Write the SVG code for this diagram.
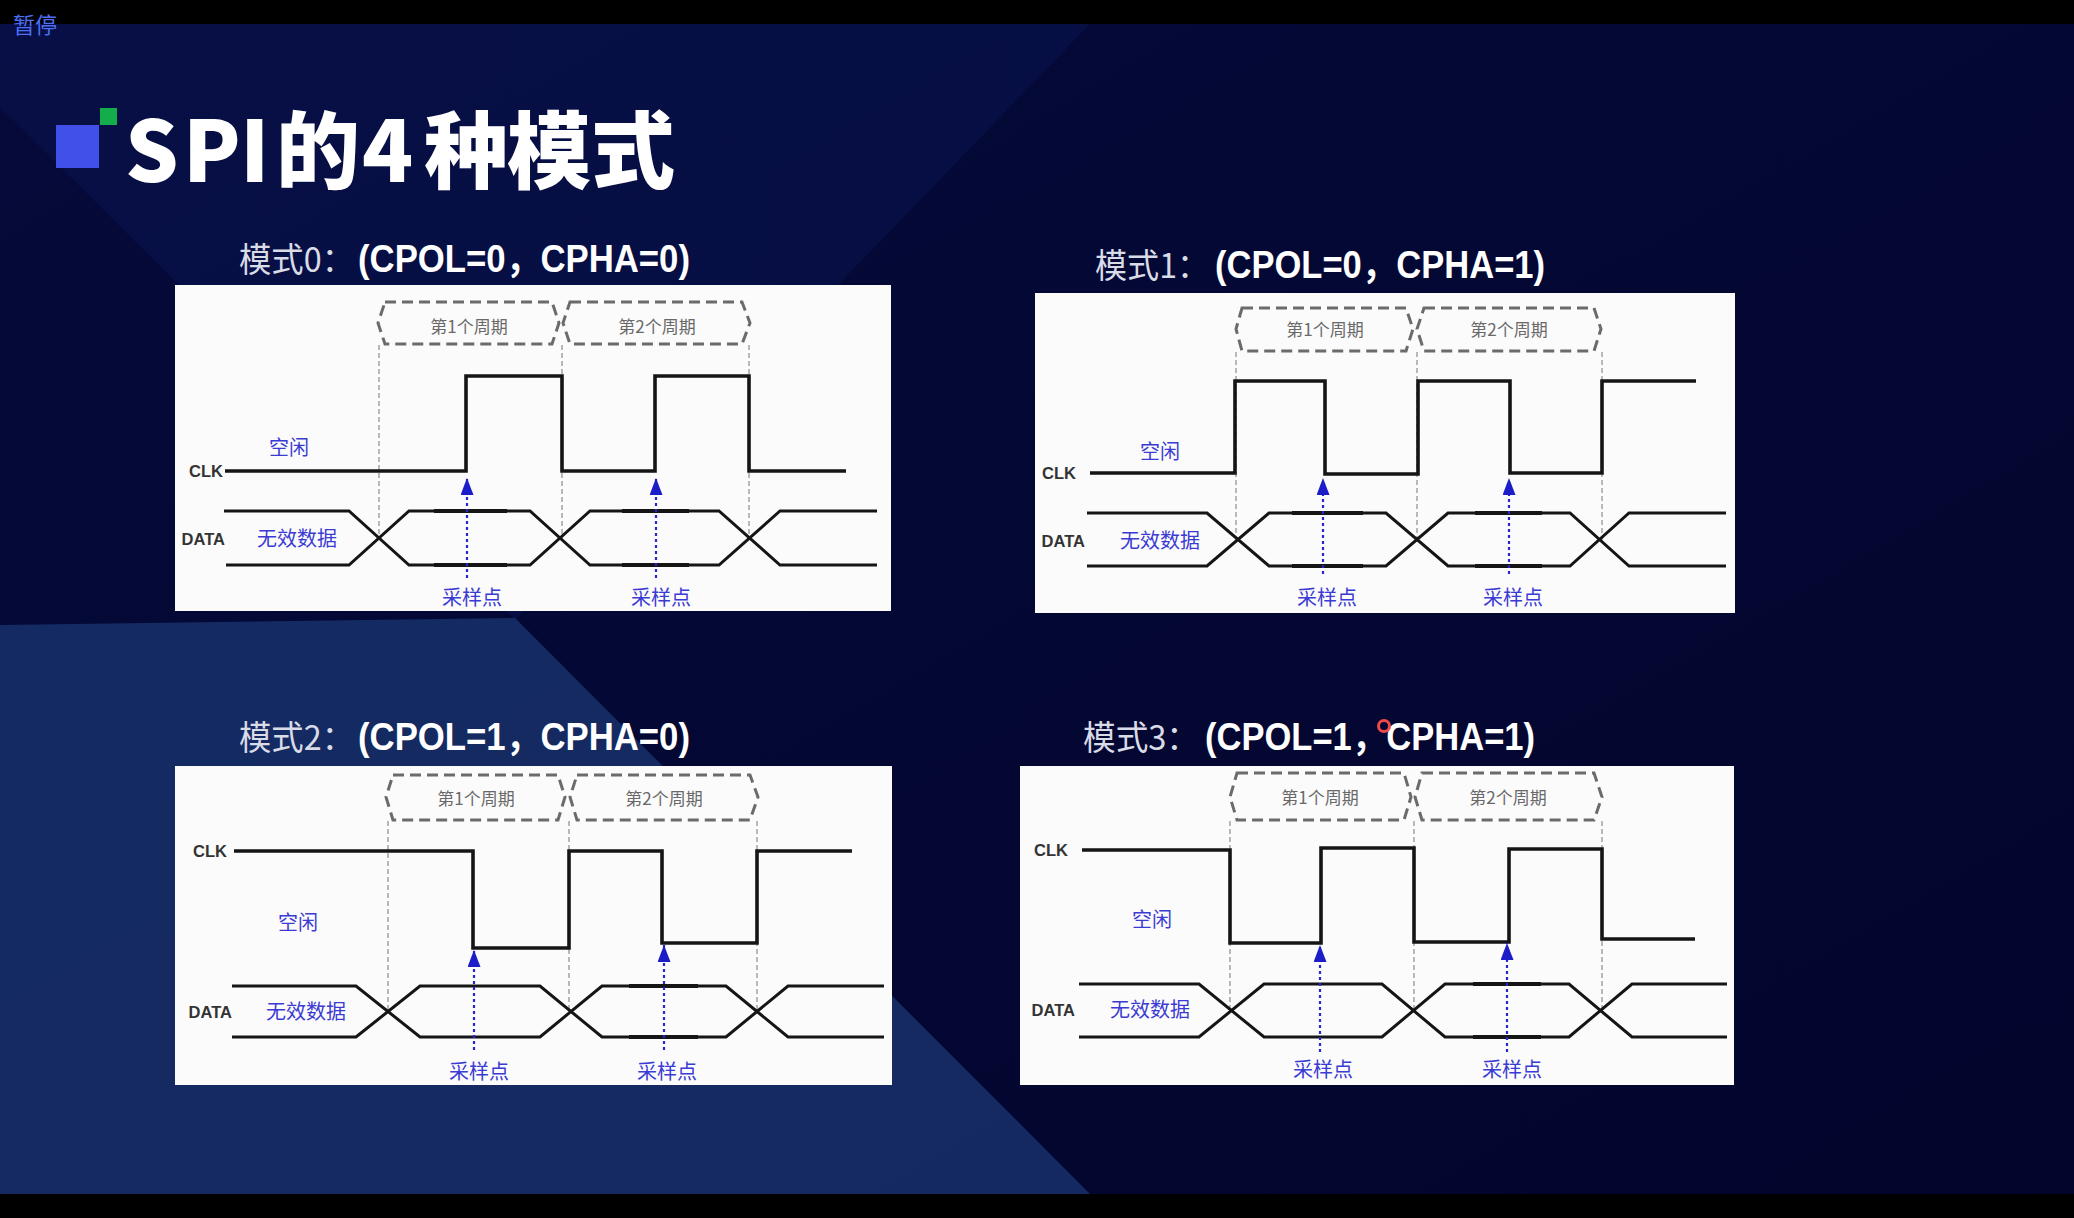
<svg xmlns="http://www.w3.org/2000/svg" width="2074" height="1218" viewBox="0 0 2074 1218">
  <defs>
    <style>
      .clk{fill:none;stroke:#151515;stroke-width:3.6;stroke-linejoin:miter}
      .data{fill:none;stroke:#151515;stroke-width:3;stroke-linejoin:miter}
      .thick{fill:none;stroke:#151515;stroke-width:3.8}
      .guide{stroke:#8c8c8c;stroke-width:1.2;stroke-dasharray:5 3}
      .period{fill:none;stroke:#6b6b6b;stroke-width:3;stroke-dasharray:11 6}
      .ptxt{font-family:"Noto Sans CJK SC",sans-serif;font-size:17px;fill:#696969;text-anchor:middle}
      .sig{font-family:"Liberation Sans",sans-serif;font-weight:bold;font-size:16.5px;fill:#333;text-anchor:end}
      .blue{font-family:"Noto Sans CJK SC",sans-serif;font-size:20px;fill:#3b3bd4}
      .bluec{font-family:"Noto Sans CJK SC",sans-serif;font-size:20px;fill:#3b3bd4;text-anchor:middle}
      .shaft{stroke:#2626cc;stroke-width:2.2;stroke-dasharray:3 3;marker-end:url(#head)}
      .panel{fill:#fbfbfb}
      .lab{font-family:"Noto Sans CJK SC",sans-serif;font-size:34px;fill:#d9dbe6}
      .labb{font-family:"Liberation Sans","Noto Sans CJK SC",sans-serif;font-weight:bold;font-size:38px;fill:#ffffff}
    </style>
    <!-- solid blue arrowhead for the sampling markers -->
    <marker id="head" markerUnits="userSpaceOnUse" markerWidth="17" markerHeight="13" refX="17" refY="6.5" orient="auto" viewBox="0 0 17 13">
      <path d="M17,6.5 L0,0 L0,13 Z" fill="#1c1cc8"/>
    </marker>
    <linearGradient id="bg" x1="0" y1="0" x2="1" y2="1">
      <stop offset="0" stop-color="#050a3a"/>
      <stop offset="1" stop-color="#02052c"/>
    </linearGradient>
  </defs>

  <!-- backdrop -->
  <rect x="0" y="0" width="2074" height="1218" fill="url(#bg)"/>
  <polygon points="0,24 1090,24 515,620 0,107" fill="#0a1450" opacity="0.55"/>
  <polygon points="515,618 1090,1194 0,1194 0,625" fill="#17306a" opacity="0.85"/>
  <rect x="0" y="0" width="2074" height="24" fill="#000"/>
  <rect x="0" y="1194" width="2074" height="24" fill="#000"/>
  <text x="13" y="33" font-family="Noto Sans CJK SC, sans-serif" font-size="22" fill="#4d6ef2">暂停</text>

  <!-- heading -->
  <g id="heading">
    <rect x="56" y="125" width="43" height="43" fill="#4050e8"/>
    <rect x="100" y="108" width="17" height="17" fill="#13ad4c"/>
    <text x="125 183 240 276 362 424 507 591" y="182" font-family="Noto Sans CJK SC, sans-serif" font-weight="900" font-size="84" fill="#ffffff">SPI的4种模式</text>
  </g>

  <!-- mode captions -->
  <g id="caption-0">
    <text class="lab" x="239" y="272" textLength="115" lengthAdjust="spacingAndGlyphs">模式0：</text>
    <text class="labb" x="358" y="272" textLength="332" lengthAdjust="spacingAndGlyphs">(CPOL=0，CPHA=0)</text>
  </g>
  <g id="caption-1">
    <text class="lab" x="1095" y="278" textLength="114" lengthAdjust="spacingAndGlyphs">模式1：</text>
    <text class="labb" x="1215" y="278" textLength="330" lengthAdjust="spacingAndGlyphs">(CPOL=0，CPHA=1)</text>
  </g>
  <g id="caption-2">
    <text class="lab" x="239" y="750" textLength="115" lengthAdjust="spacingAndGlyphs">模式2：</text>
    <text class="labb" x="358" y="750" textLength="332" lengthAdjust="spacingAndGlyphs">(CPOL=1，CPHA=0)</text>
  </g>
  <g id="caption-3">
    <text class="lab" x="1083" y="750" textLength="116" lengthAdjust="spacingAndGlyphs">模式3：</text>
    <text class="labb" x="1205" y="750" textLength="330" lengthAdjust="spacingAndGlyphs">(CPOL=1，CPHA=1)</text>
  </g>
  <circle cx="1384" cy="726" r="5.5" fill="none" stroke="#f04848" stroke-width="3"/>

  <!-- mode 0: idle low, sample on rising edge -->
  <g id="mode0">
    <rect class="panel" x="175" y="285" width="716" height="326"/>
    <polygon class="period" points="385,302 552,302 559,323 552,344 385,344 378,323"/>
    <polygon class="period" points="570,302 742,302 750,323 742,344 570,344 563,323"/>
    <text class="ptxt" x="469" y="333">第1个周期</text>
    <text class="ptxt" x="657" y="333">第2个周期</text>
    <line class="guide" x1="379" y1="345" x2="379" y2="538"/>
    <line class="guide" x1="562" y1="345" x2="562" y2="538"/>
    <line class="guide" x1="749" y1="345" x2="749" y2="538"/>
    <text class="sig" x="223" y="477">CLK</text>
    <path class="clk" d="M225,471 H466 V376 H562 V471 H655 V376 H749 V471 H846"/>
    <text class="blue" x="269" y="455">空闲</text>
    <text class="sig" x="225" y="545">DATA</text>
    <text class="blue" x="257" y="546">无效数据</text>
    <path class="data" d="M224,511 H349 L409,565 H530 L590,511 H719 L780,565 H877"/>
    <path class="data" d="M226,565 H349 L409,511 H530 L590,565 H719 L780,511 H877"/>
    <path class="thick" d="M434,511 H507 M622,511 H689 M434,565 H507 M622,565 H689"/>
    <line class="shaft" x1="467" y1="578" x2="467" y2="478"/>
    <line class="shaft" x1="656" y1="578" x2="656" y2="478"/>
    <text class="bluec" x="472" y="605">采样点</text>
    <text class="bluec" x="661" y="605">采样点</text>
  </g>

  <!-- mode 1: idle low, sample on falling edge -->
  <g id="mode1">
    <rect class="panel" x="1035" y="293" width="700" height="320"/>
    <polygon class="period" points="1242,308 1406,308 1413,329 1406,351 1242,351 1236,329"/>
    <polygon class="period" points="1424,308 1594,308 1601,329 1594,351 1424,351 1417,329"/>
    <text class="ptxt" x="1325" y="336">第1个周期</text>
    <text class="ptxt" x="1509" y="336">第2个周期</text>
    <line class="guide" x1="1236" y1="352" x2="1236" y2="541"/>
    <line class="guide" x1="1417" y1="352" x2="1417" y2="541"/>
    <line class="guide" x1="1602" y1="352" x2="1602" y2="541"/>
    <text class="sig" x="1076" y="479">CLK</text>
    <path class="clk" d="M1090,473 H1235 V381 H1325 V474 H1418 V381 H1510 V473 H1602 V381 H1696"/>
    <text class="blue" x="1140" y="459">空闲</text>
    <text class="sig" x="1085" y="547">DATA</text>
    <text class="blue" x="1120" y="548">无效数据</text>
    <path class="data" d="M1087,513 H1207 L1269,566 H1386 L1448,513 H1570 L1629,566 H1726"/>
    <path class="data" d="M1087,566 H1207 L1269,513 H1386 L1448,566 H1570 L1629,513 H1726"/>
    <path class="thick" d="M1292,513 H1363 M1475,513 H1542 M1292,566 H1363 M1475,566 H1542"/>
    <line class="shaft" x1="1323" y1="574" x2="1323" y2="478"/>
    <line class="shaft" x1="1509" y1="574" x2="1509" y2="478"/>
    <text class="bluec" x="1327" y="605">采样点</text>
    <text class="bluec" x="1513" y="605">采样点</text>
  </g>

  <!-- mode 2: idle high, sample on falling edge -->
  <g id="mode2">
    <rect class="panel" x="175" y="766" width="717" height="319"/>
    <polygon class="period" points="393,775 558,775 565,797 558,820 393,820 386,797"/>
    <polygon class="period" points="577,775 750,775 758,797 750,820 577,820 570,797"/>
    <text class="ptxt" x="476" y="805">第1个周期</text>
    <text class="ptxt" x="664" y="805">第2个周期</text>
    <line class="guide" x1="388" y1="821" x2="388" y2="1012"/>
    <line class="guide" x1="569" y1="821" x2="569" y2="1012"/>
    <line class="guide" x1="757" y1="821" x2="757" y2="1012"/>
    <text class="sig" x="227" y="857">CLK</text>
    <path class="clk" d="M234,851 H473 V948 H569 V851 H662 V943 H757 V851 H852"/>
    <text class="blue" x="278" y="930">空闲</text>
    <text class="sig" x="232" y="1018">DATA</text>
    <text class="blue" x="266" y="1019">无效数据</text>
    <path class="data" d="M232,986 H356 L420,1037 H540 L602,986 H726 L788,1037 H884"/>
    <path class="data" d="M232,1037 H356 L420,986 H540 L602,1037 H726 L788,986 H884"/>
    <path class="thick" d="M629,986 H698 M629,1037 H698"/>
    <line class="shaft" x1="474" y1="1050" x2="474" y2="950"/>
    <line class="shaft" x1="664" y1="1050" x2="664" y2="945"/>
    <text class="bluec" x="479" y="1079">采样点</text>
    <text class="bluec" x="667" y="1079">采样点</text>
  </g>

  <!-- mode 3: idle high, sample on rising edge -->
  <g id="mode3">
    <rect class="panel" x="1020" y="766" width="714" height="319"/>
    <polygon class="period" points="1237,773 1404,773 1411,797 1404,820 1237,820 1230,797"/>
    <polygon class="period" points="1422,773 1594,773 1602,797 1594,820 1422,820 1415,797"/>
    <text class="ptxt" x="1320" y="804">第1个周期</text>
    <text class="ptxt" x="1508" y="804">第2个周期</text>
    <line class="guide" x1="1230" y1="821" x2="1230" y2="1010"/>
    <line class="guide" x1="1414" y1="821" x2="1414" y2="1010"/>
    <line class="guide" x1="1602" y1="821" x2="1602" y2="1010"/>
    <text class="sig" x="1068" y="856">CLK</text>
    <path class="clk" d="M1082,850 H1230 V943 H1321 V848 H1414 V942 H1509 V849 H1602 V939 H1695"/>
    <text class="blue" x="1132" y="927">空闲</text>
    <text class="sig" x="1075" y="1016">DATA</text>
    <text class="blue" x="1110" y="1017">无效数据</text>
    <path class="data" d="M1079,984 H1199 L1264,1037 H1382 L1445,984 H1569 L1632,1037 H1727"/>
    <path class="data" d="M1079,1037 H1199 L1264,984 H1382 L1445,1037 H1569 L1632,984 H1727"/>
    <path class="thick" d="M1473,984 H1541 M1473,1037 H1541"/>
    <line class="shaft" x1="1320" y1="1052" x2="1320" y2="945"/>
    <line class="shaft" x1="1507" y1="1052" x2="1507" y2="943"/>
    <text class="bluec" x="1323" y="1077">采样点</text>
    <text class="bluec" x="1512" y="1077">采样点</text>
  </g>
</svg>
